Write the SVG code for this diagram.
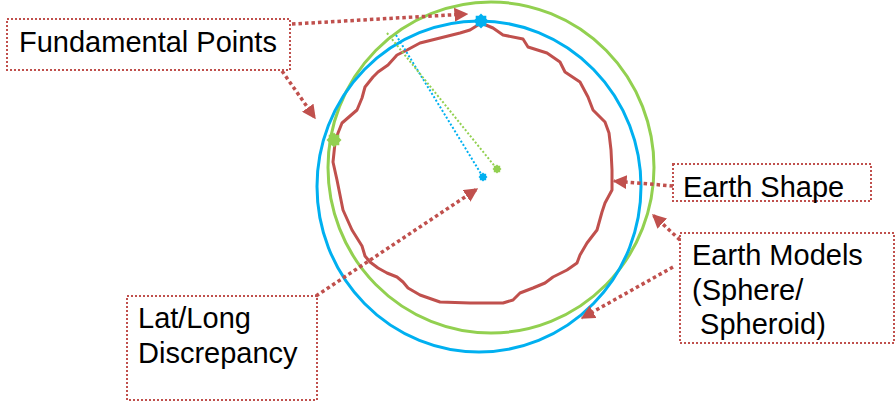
<svg xmlns="http://www.w3.org/2000/svg" width="895" height="402" viewBox="0 0 895 402">
<style>
.lbl{font-family:"Liberation Sans",Arial,sans-serif;font-size:29px;fill:#000}
.box{fill:none;stroke:#C0504D;stroke-width:2;stroke-dasharray:2 2}
.con{fill:none;stroke:#C0504D;stroke-width:3.5;stroke-dasharray:3.5 3}
</style>
<defs>
<marker id="ah" viewBox="0 0 10 10" refX="9" refY="5" markerWidth="14" markerHeight="14" markerUnits="userSpaceOnUse" orient="auto">
<path d="M0,0 L10,5 L0,10 z" fill="#C0504D"/>
</marker>
<path id="blob" d="M0,-7.5 L2.2,-5.3 L5.3,-5.3 L5.3,-2.2 L7.5,0 L5.3,2.2 L5.3,5.3 L2.2,5.3 L0,7.5 L-2.2,5.3 L-5.3,5.3 L-5.3,2.2 L-7.5,0 L-5.3,-2.2 L-5.3,-5.3 L-2.2,-5.3 Z"/>
</defs>
<rect width="895" height="402" fill="#fff"/>
<g id="earth-models-shapes">
<ellipse cx="491" cy="167.5" rx="163" ry="165.5" fill="none" stroke="#92D050" stroke-width="3"/>
<ellipse cx="479" cy="186.5" rx="162" ry="165.5" fill="none" stroke="#00B0F0" stroke-width="3"/>
<path d="M481,23 L493,28 L503,35 L523,39 L528,47 L547,53 L560,62 L565,72 L580,82 L588,97 L593,110 L605,122 L609,133 L611,150 L612,170 L612,190 L605,203 L602,212 L597,230 L587,243 L580,255 L577,263 L567,270 L553,277 L545,283 L533,288 L520,293 L513,300 L503,303 L470,303 L440,302 L420,295 L408,288 L403,282 L397,277 L387,273 L378,268 L370,262 L365,256 L362,246 L352,230 L343,210 L337,180 L333,162 L335,143 L338,133 L342,123 L357,110 L362,98 L365,87 L373,77 L378,72 L388,65 L397,55 L407,50 L420,43 L440,38 L460,33 L470,30 L478,25 Z" fill="none" stroke="#C0504D" stroke-width="3" stroke-linejoin="round"/>
<line x1="396" y1="35" x2="483" y2="177" stroke="#00B0F0" stroke-width="2" stroke-dasharray="2 2"/>
<line x1="387" y1="33" x2="497" y2="169" stroke="#92D050" stroke-width="2" stroke-dasharray="2 2"/>
<use href="#blob" transform="translate(481,21)" fill="#00B0F0"/>
<use href="#blob" transform="translate(334,140)" fill="#92D050"/>
<use href="#blob" transform="translate(483,177) scale(0.6)" fill="#00B0F0"/>
<use href="#blob" transform="translate(497,169) scale(0.6)" fill="#92D050"/>
</g>
<g id="connectors">
<line class="con" x1="292" y1="24" x2="467" y2="14" marker-end="url(#ah)"/>
<line class="con" x1="282" y1="71" x2="315" y2="118" marker-end="url(#ah)"/>
<line class="con" x1="316" y1="296" x2="477" y2="189" marker-end="url(#ah)"/>
<line class="con" x1="673" y1="186" x2="614" y2="181" marker-end="url(#ah)"/>
<line class="con" x1="680" y1="240" x2="653" y2="215" marker-end="url(#ah)"/>
<line class="con" x1="673" y1="267" x2="582" y2="318" marker-end="url(#ah)"/>
</g>
<g id="fundamental-points">
<rect class="box" x="7" y="19" width="283" height="51"/>
<text class="lbl" x="19" y="52">Fundamental Points</text>
</g>
<g id="earth-shape">
<rect class="box" x="673" y="164" width="198" height="37"/>
<text class="lbl" x="683" y="197">Earth Shape</text>
</g>
<g id="earth-models">
<rect class="box" x="680" y="233" width="214" height="110"/>
<text class="lbl" x="692" y="265">Earth Models</text>
<text class="lbl" x="692" y="299.5">(Sphere/</text>
<text class="lbl" x="692" y="334" xml:space="preserve"> Spheroid)</text>
</g>
<g id="lat-long">
<rect class="box" x="127" y="296" width="190" height="104"/>
<text class="lbl" x="138" y="328">Lat/Long</text>
<text class="lbl" x="138" y="363">Discrepancy</text>
</g>
</svg>
